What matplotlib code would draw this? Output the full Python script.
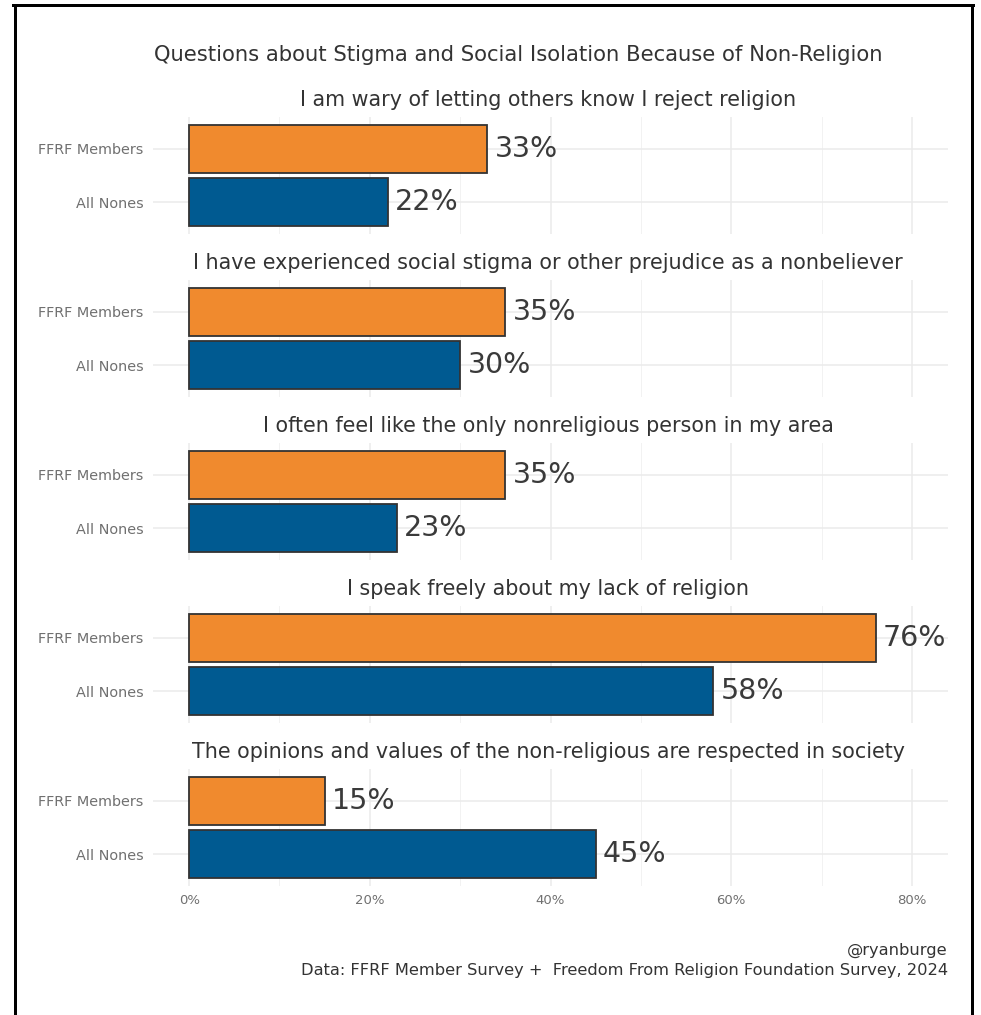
import matplotlib
matplotlib.use("Agg")
import matplotlib.pyplot as plt
from matplotlib.lines import Line2D

plt.rcParams['font.family'] = ['DejaVu Sans']

title = "Questions about Stigma and Social Isolation Because of Non-Religion"
questions = [
    "I am wary of letting others know I reject religion",
    "I have experienced social stigma or other prejudice as a nonbeliever",
    "I often feel like the only nonreligious person in my area",
    "I speak freely about my lack of religion",
    "The opinions and values of the non-religious are respected in society",
]
groups = ["FFRF Members", "All Nones"]
ffrf = [33, 35, 35, 76, 15]
nones = [22, 30, 23, 58, 45]
x_ticks = [0, 20, 40, 60, 80]
x_ticklabels = ["0%", "20%", "40%", "60%", "80%"]
caption1 = "@ryanburge"
caption2 = "Data: FFRF Member Survey +  Freedom From Religion Foundation Survey, 2024"

colors = ["#F08A2E", "#005A91"]
W, H = 981, 1015
fig = plt.figure(figsize=(W / 100, H / 100), dpi=100)
fig.patch.set_facecolor("white")

def fx(px):
    return px / W

def fy(py):
    return 1 - py / H

left, right = 153, 948
tops = [117, 280, 443, 606, 769]
ph = 117

for i, q in enumerate(questions):
    top = tops[i]
    ax = fig.add_axes([fx(left), fy(top + ph), fx(right - left), ph / H])
    ax.set_xlim(-4, 84)
    ax.set_ylim(0.4, 2.6)
    for s in ax.spines.values():
        s.set_visible(False)
    ax.set_xticks(x_ticks)
    ax.set_xticks([10, 30, 50, 70], minor=True)
    ax.set_yticks([2, 1])
    ax.set_yticklabels(groups)
    ax.grid(True, which="major", color="#EBEBEB", linewidth=1.1)
    ax.grid(True, which="minor", axis="x", color="#F2F2F2", linewidth=0.7)
    ax.set_axisbelow(True)
    ax.tick_params(which="both", length=0)
    ax.tick_params(axis="y", labelsize=10.4, labelcolor="#707070", pad=7)
    if i == len(questions) - 1:
        ax.set_xticklabels(x_ticklabels)
        ax.tick_params(axis="x", labelsize=9.5, labelcolor="#707070", pad=6)
    else:
        ax.set_xticklabels([])
    vals = [ffrf[i], nones[i]]
    ax.barh([2, 1], vals, height=0.9, color=colors, edgecolor="#333333", linewidth=1.3)
    for yv, v in zip([2, 1], vals):
        ax.text(v + 0.8, yv, f"{v}%", fontsize=20.5, color="#3A3A3A", va="center", ha="left")
    fig.text(fx(548), fy(top - 17), q, fontsize=14.9, color="#333333", ha="center", va="center")

fig.text(fx(518), fy(55), title, fontsize=15.2, color="#333333", ha="center", va="center")
fig.text(fx(948), fy(950), caption1, fontsize=11.7, color="#333333", ha="right", va="center")
fig.text(fx(948), fy(970), caption2, fontsize=11.7, color="#333333", ha="right", va="center")

lw = 3
for xs, ys in [([14.5, 14.5], [4.5, H]), ([13, 973], [4.5, 4.5]), ([971.5, 971.5], [4.5, H])]:
    fig.add_artist(Line2D([fx(v) for v in xs], [fy(v) for v in ys], color="black", linewidth=lw * 0.72))

fig.savefig("out.png", dpi=100, facecolor="white")
